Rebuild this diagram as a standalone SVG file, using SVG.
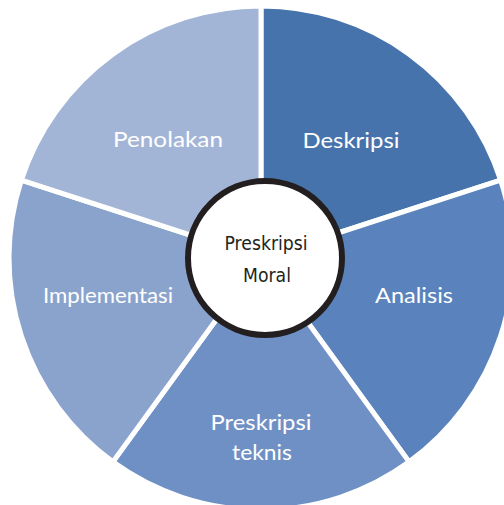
<svg xmlns="http://www.w3.org/2000/svg" width="504" height="505" viewBox="0 0 504 505">
<style>
.slice{stroke:#ffffff;stroke-width:5;stroke-linejoin:miter}
.lbl{font-family:Lato,"Open Sans","Liberation Sans",sans-serif;font-size:22px;fill:#ffffff;text-anchor:middle}
.ctr{font-family:"DejaVu Sans","Liberation Sans",sans-serif;font-size:20px;fill:#231f20;text-anchor:middle}
</style>
<rect width="504" height="505" fill="#ffffff"/>
<g id="deskripsi">
<path class="slice" fill="#4673ab" d="M261,258 L261,6 A252,252 0 0 1 500.67,180.13 Z"/>
<text class="lbl" x="351" y="148" textLength="97" lengthAdjust="spacingAndGlyphs">Deskripsi</text>
</g>
<g id="analisis">
<path class="slice" fill="#5a82bc" d="M261,258 L500.67,180.13 A252,252 0 0 1 409.12,461.87 Z"/>
<text class="lbl" x="414" y="303" textLength="78" lengthAdjust="spacingAndGlyphs">Analisis</text>
</g>
<g id="preskripsi-teknis">
<path class="slice" fill="#6f90c4" d="M261,258 L409.12,461.87 A252,252 0 0 1 112.88,461.87 Z"/>
<text class="lbl" x="261" y="430" textLength="101" lengthAdjust="spacingAndGlyphs">Preskripsi</text>
<text class="lbl" x="262" y="460" textLength="60" lengthAdjust="spacingAndGlyphs">teknis</text>
</g>
<g id="implementasi">
<path class="slice" fill="#8aa3cc" d="M261,258 L112.88,461.87 A252,252 0 0 1 21.33,180.13 Z"/>
<text class="lbl" x="108" y="303" textLength="130" lengthAdjust="spacingAndGlyphs">Implementasi</text>
</g>
<g id="penolakan">
<path class="slice" fill="#a3b5d6" d="M261,258 L21.33,180.13 A252,252 0 0 1 261,6 Z"/>
<text class="lbl" x="168" y="147" textLength="110" lengthAdjust="spacingAndGlyphs">Penolakan</text>
</g>
<g id="connectors"></g>
<g id="preskripsi-moral">
<circle cx="265" cy="258" r="77" fill="#ffffff" stroke="#231f20" stroke-width="6"/>
<text class="ctr" x="266" y="250" textLength="83" lengthAdjust="spacingAndGlyphs">Preskripsi</text>
<text class="ctr" x="267" y="282" textLength="48" lengthAdjust="spacingAndGlyphs">Moral</text>
</g>
</svg>
